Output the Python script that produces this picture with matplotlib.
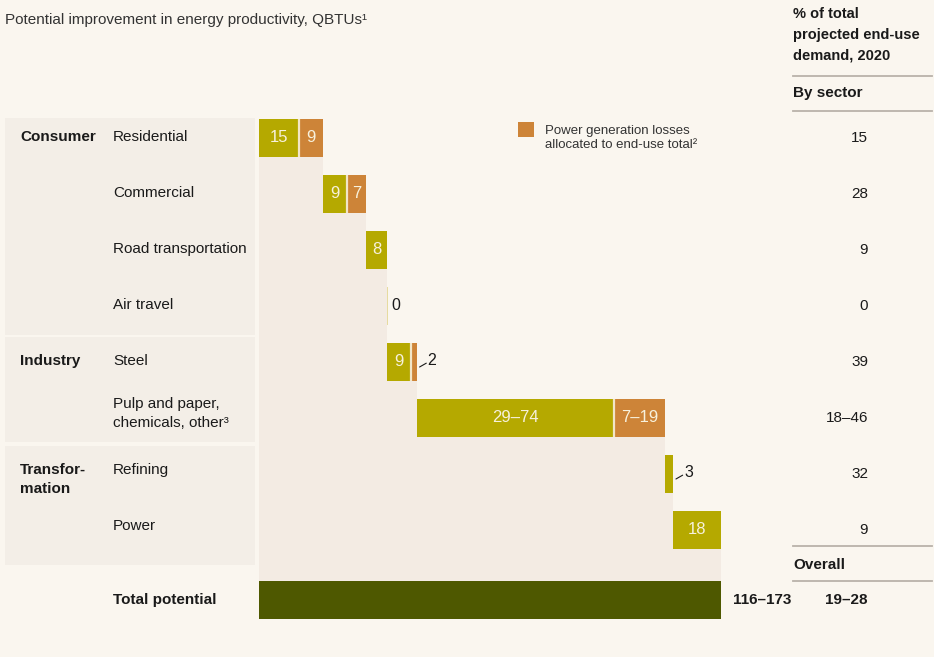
import matplotlib
matplotlib.use("Agg")
import matplotlib.pyplot as plt
import matplotlib.transforms as mtransforms
from matplotlib.patches import Rectangle
from matplotlib.lines import Line2D

plt.rcParams['font.family'] = ['Liberation Sans Narrow', 'Liberation Sans', 'DejaVu Sans']

# data (QBTUs, upper end of ranges used for bar widths)
sectors = ["Residential", "Commercial", "Road transportation", "Air travel", "Steel",
           "Pulp and paper,\nchemicals, other³", "Refining", "Power"]
groups = {0: "Consumer", 4: "Industry", 6: "Transfor-\nmation"}
end_use = [15, 9, 8, 0, 9, 74, 3, 18]
losses = [9, 7, 0, 0, 2, 19, 0, 0]
end_use_labels = ["15", "9", "8", "0", "9", "29–74", "3", "18"]
loss_labels = ["9", "7", "", "", "2", "7–19", "", ""]
share_labels = ["15", "28", "9", "0", "39", "18–46", "32", "9"]
total_label = "116–173"
overall_label = "19–28"
header_lines = ["% of total", "projected end-use", "demand, 2020"]

BG = "#faf6ef"
PANEL = "#f3eee7"
SHADOW = "#f3ebe3"
GREEN = "#b5a900"
ORANGE = "#cd8438"
DARK = "#4e5800"
TXT = "#1a1a1a"
LINE = "#b9b2aa"
FS = 11

W, H = 934, 657
fig = plt.figure(figsize=(W / 100, H / 100), dpi=100, facecolor=BG)


def fx(px):
    return px / W


def fy(py):
    return 1 - py / H


ax = fig.add_axes([fx(259), fy(628), fx(721) - fx(259), fy(110) - fy(628)])
ax.set_facecolor("none")
ax.axis("off")
total = sum(end_use) + sum(losses)
ax.set_xlim(0, total)
ax.set_ylim(8.75, -0.5)

bh = 0.68
total_row = 8.25
rows = list(range(len(sectors)))

# left label panels (x in figure, y in data rows)
bt = mtransforms.blended_transform_factory(fig.transFigure, ax.transData)
for y0, y1 in [(-0.36, 3.52), (3.56, 5.43), (5.5, 7.62)]:
    fig.patches.append(Rectangle((fx(5), y0), fx(255) - fx(5), y1 - y0, transform=bt,
                                 facecolor=PANEL, edgecolor="none", zorder=0))

# waterfall
start = 0
for i in rows:
    end = start + end_use[i] + losses[i]
    next_top = (i + 1 if i + 1 < len(rows) else total_row) - bh / 2
    top = i - bh / 2
    ax.barh(top + (next_top - top) / 2, end, height=next_top - top, left=0,
            color=SHADOW, zorder=1)
    if end_use[i] > 0:
        ax.barh(i, end_use[i], height=bh, left=start, color=GREEN, zorder=2)
    else:
        ax.barh(i, 0.4, height=bh, left=start, color="#e6dba0", zorder=2)
    if losses[i] > 0:
        ax.barh(i, losses[i], height=bh, left=start + end_use[i], color=ORANGE, zorder=2)
        ax.vlines(start + end_use[i], i - bh / 2, i + bh / 2, color="#f2e6c8", lw=1.6, zorder=3)

    # value labels
    if end_use[i] >= 5:
        ax.text(start + end_use[i] / 2, i, end_use_labels[i], ha="center", va="center",
                color="#f7f1dc", fontsize=FS + 1, zorder=4)
    if losses[i] >= 5:
        ax.text(start + end_use[i] + losses[i] / 2, i, loss_labels[i], ha="center",
                va="center", color="#f7f1dc", fontsize=FS + 1, zorder=4)
    if end_use[i] == 0:
        ax.annotate(end_use_labels[i], xy=(end, i), xytext=(3, 0), textcoords="offset points",
                    ha="left", va="center", color=TXT, fontsize=FS + 0.5)
    small = loss_labels[i] if 0 < losses[i] < 5 else (end_use_labels[i] if 0 < end_use[i] < 5 else "")
    if small:
        ax.annotate("", xy=(end, i + 0.12), xytext=(7, 4), textcoords="offset points",
                    arrowprops=dict(arrowstyle="-", color=TXT, lw=0.8, shrinkA=0, shrinkB=2.5))
        ax.annotate(small, xy=(end, i), xytext=(8, 1), textcoords="offset points",
                    ha="left", va="center", color=TXT, fontsize=FS + 0.5)
    start = end

ax.barh(total_row, total, height=bh, left=0, color=DARK, zorder=2)
ax.annotate(total_label, xy=(total, total_row), xytext=(9, 0), textcoords="offset points",
            ha="left", va="center", color=TXT, fontsize=FS, fontweight="bold")

# row labels
for i in rows:
    yy = i - (0.08 if i >= 5 else 0.02)
    fig.text(fx(113), yy, sectors[i], transform=bt, ha="left", va="center",
             color=TXT, fontsize=FS, linespacing=1.4)
    fig.text(fx(868), i, share_labels[i], transform=bt, ha="right", va="center",
             color=TXT, fontsize=FS)
for i, g in groups.items():
    yy = i + (0.1 if "\n" in g else -0.02)
    fig.text(fx(20), yy, g, transform=bt, ha="left", va="center", color=TXT,
             fontsize=FS, fontweight="bold", linespacing=1.5)
fig.text(fx(113), total_row, "Total potential", transform=bt, ha="left", va="center",
         color=TXT, fontsize=FS, fontweight="bold")
fig.text(fx(868), total_row, overall_label, transform=bt, ha="right", va="center",
         color=TXT, fontsize=FS, fontweight="bold")

# title and right header
fig.text(fx(5), fy(20), "Potential improvement in energy productivity, QBTUs¹", ha="left",
         va="center", color="#333333", fontsize=FS)
for k, line in enumerate(header_lines):
    fig.text(fx(793), fy(14 + 21 * k), line, ha="left", va="center",
             color=TXT, fontsize=FS - 0.5, fontweight="bold")
fig.text(fx(793), fy(93), "By sector", ha="left", va="center", color=TXT,
         fontsize=FS, fontweight="bold")
fig.text(fx(793), fy(565), "Overall", ha="left", va="center", color=TXT,
         fontsize=FS, fontweight="bold")
for py in [76, 111, 546, 581]:
    fig.lines.append(Line2D([fx(793), fx(932)], [fy(py), fy(py)], transform=fig.transFigure,
                            color=LINE, lw=1.3))

# legend
fig.patches.append(Rectangle((fx(518), fy(137)), fx(534) - fx(518), fy(122) - fy(137),
                             transform=fig.transFigure, facecolor=ORANGE, edgecolor="none"))
fig.text(fx(545), fy(138), "Power generation losses\nallocated to end-use total²", ha="left",
         va="center", color="#333333", fontsize=9.5, linespacing=1.25)

fig.savefig("out.png", dpi=100, facecolor=BG)
